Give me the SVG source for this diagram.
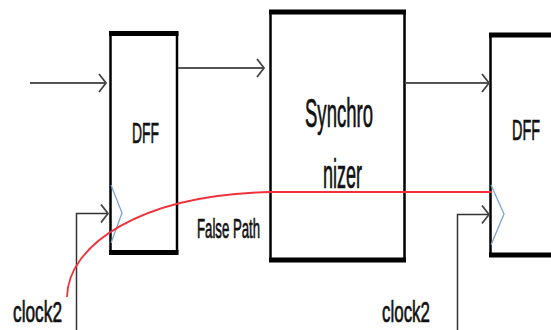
<svg xmlns="http://www.w3.org/2000/svg" width="551" height="330" viewBox="0 0 551 330">
<style>
.box{fill:#fff;stroke:#000;stroke-width:2.5}
.bar{stroke:#000;stroke-width:5}
.wire{fill:none;stroke:#555;stroke-width:2}
.clk{fill:none;stroke:#333;stroke-width:1.5}
.tri{fill:none;stroke:#7aa3d6;stroke-width:1.3}
.fp{fill:none;stroke:#f0303a;stroke-width:1.8}
text{font-family:"Liberation Sans",Arial,sans-serif;fill:#111;stroke:#111;stroke-width:0.7}
</style>
<defs>
<marker id="chev" markerWidth="12" markerHeight="22" refX="9" refY="10" orient="auto" markerUnits="userSpaceOnUse">
<path d="M2,1 L9,10 L2,19" fill="none" stroke="#444" stroke-width="1.8"/>
</marker>
</defs>
<rect width="551" height="330" fill="#fff"/>
<g id="dff1">
<rect class="box" x="110.5" y="33.5" width="66.5" height="219"/>
<line class="bar" x1="109" y1="33.5" x2="178.5" y2="33.5"/>
<line class="bar" x1="109" y1="252.5" x2="178.5" y2="252.5"/>
<polyline class="tri" points="111,185 122,213 111,243"/>
<text x="132" y="143" font-size="29" textLength="27" lengthAdjust="spacingAndGlyphs">DFF</text>
</g>
<g id="sync">
<rect class="box" x="270.5" y="12" width="134" height="248"/>
<line class="bar" x1="269" y1="12" x2="406" y2="12"/>
<line class="bar" x1="269" y1="260" x2="406" y2="260"/>
<text x="305" y="127" font-size="40" textLength="68" lengthAdjust="spacingAndGlyphs">Synchro</text>
<text x="323" y="188" font-size="40" textLength="39" lengthAdjust="spacingAndGlyphs">nizer</text>
</g>
<g id="dff2">
<rect class="box" x="490.5" y="35" width="70" height="220"/>
<line class="bar" x1="489" y1="35" x2="560" y2="35"/>
<line class="bar" x1="489" y1="255" x2="560" y2="255"/>
<polyline class="tri" points="491,185 504,214 491,245"/>
<text x="512" y="140" font-size="29" textLength="28" lengthAdjust="spacingAndGlyphs">DFF</text>
</g>
<g id="connectors">
<line class="wire" x1="30" y1="83" x2="106" y2="83" marker-end="url(#chev)"/>
<line class="wire" x1="178" y1="68" x2="264" y2="68" marker-end="url(#chev)"/>
<line class="wire" x1="405" y1="83" x2="489" y2="83" marker-end="url(#chev)"/>
<polyline class="clk" points="76.5,330 76.5,213.5 108,213.5" marker-end="url(#chev)"/>
<polyline class="clk" points="457.5,330 457.5,214.5 489,214.5" marker-end="url(#chev)"/>
<path class="fp" d="M67,297 C68,245 140,195 270,192 L492,192"/>
</g>
<text x="197" y="238" font-size="27" textLength="63" lengthAdjust="spacingAndGlyphs">False Path</text>
<text x="13" y="322" font-size="30" textLength="49" lengthAdjust="spacingAndGlyphs">clock2</text>
<text x="382" y="322" font-size="30" textLength="48" lengthAdjust="spacingAndGlyphs">clock2</text>
</svg>
